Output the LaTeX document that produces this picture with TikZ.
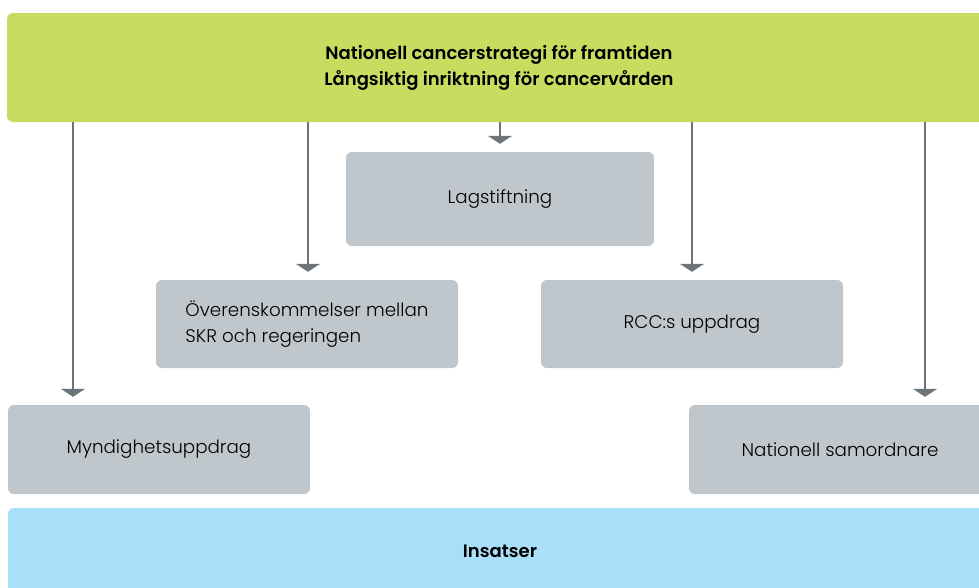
\documentclass[tikz,border=0pt]{standalone}
\usepackage{fontspec}
\setmainfont{Poppins}[UprightFont=* Light, BoldFont=* SemiBold]
\usetikzlibrary{arrows.meta}
\definecolor{strategigreen}{HTML}{C9DC5F}
\definecolor{boxgray}{HTML}{C0C7CC}
\definecolor{insatsblue}{HTML}{AADFF9}
\definecolor{arrowgray}{HTML}{6B7478}
\tikzset{
  box/.style={fill=boxgray, rounded corners=6pt, minimum width=302pt, minimum height=89pt,
    inner sep=0pt, align=center, font=\fontsize{18.3}{26}\selectfont},
  band/.style={box, minimum width=984pt, font=\fontsize{18}{26}\selectfont\bfseries},
  arr/.style={draw=arrowgray, line width=2pt, -{Triangle[width=24pt,length=8pt]}, shorten >=8pt},
}
\begin{document}
\begin{tikzpicture}[x=1pt,y=-1pt]
\clip (0,0) rectangle (979,587);
% strategy on top, efforts at the bottom
\node[band, fill=strategigreen, minimum height=109pt] (strategi) at (499,67.5)
  {Nationell cancerstrategi för framtiden\\Långsiktig inriktning för cancervården};
\node[band, fill=insatsblue, minimum height=86pt] (insatser) at (500,551) {Insatser};
% the instruments
\node[box, minimum width=308pt, minimum height=94pt] (lag) at (500,199) {Lagstiftning};
\node[box, minimum height=88pt, align=left] (overens) at (307,324) {Överenskommelser mellan\\SKR och regeringen};
\node[box, minimum height=88pt] (rcc) at (692,324) {RCC:s uppdrag};
\node[box] (myndighet) at (159,449.5) {Myndighetsuppdrag};
\node[box] (samordnare) at (840,449.5) {Nationell samordnare};
\foreach \x/\target in {73/myndighet,308/overens,500/lag,692/rcc,925/samordnare}
  \draw[arr] (strategi.south -| \x,0) -- (\target.north -| \x,0);
\end{tikzpicture}
\end{document}
